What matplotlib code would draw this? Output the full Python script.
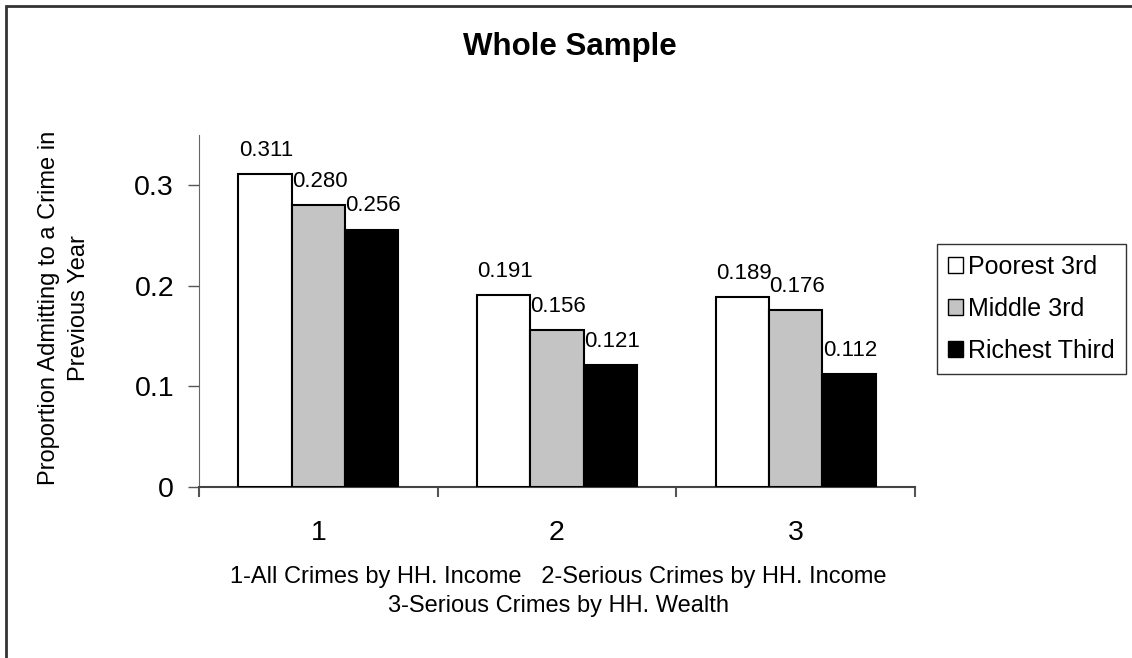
import matplotlib
matplotlib.use('Agg')
import matplotlib.pyplot as plt
import numpy as np
from matplotlib.patches import Rectangle, Patch

plt.rcParams['font.family'] = ['Liberation Sans', 'DejaVu Sans']

W, H = 1132, 658

# Data
groups = ['1', '2', '3']
series = ['Poorest 3rd', 'Middle 3rd', 'Richest Third']
poorest = [0.311, 0.191, 0.189]
middle = [0.280, 0.156, 0.176]
richest = [0.256, 0.121, 0.112]
y_ticks = [0, 0.1, 0.2, 0.3]
y_tick_labels = ['0', '0.1', '0.2', '0.3']

fills = ['white', '#c4c4c4', 'black']

fig = plt.figure(figsize=(W / 100, H / 100), dpi=100)
fig.patch.set_facecolor('white')

# outer frame, only top and left edges fall inside the canvas
fig.patches.append(Rectangle((6 / W, -0.1), 1.2, 1 - 6 / H + 0.1,
                             transform=fig.transFigure, fill=False,
                             edgecolor='#333333', linewidth=2))

ax = fig.add_axes([199 / W, 1 - 487 / H, (915 - 199) / W, (487 - 135) / H])

x = np.arange(len(groups))
bw = 0.223
for k, (vals, fc) in enumerate(zip([poorest, middle, richest], fills)):
    pos = x + (k - 1) * bw
    ax.bar(pos, vals, bw, color=fc, edgecolor='black', linewidth=1.5, zorder=3)
    for px, v in zip(pos, vals):
        ax.annotate(f'{v:.3f}', (px, v), xytext=(1, 17), textcoords='offset points',
                    ha='center', va='center', fontsize=16)

ax.set_xlim(-0.5, 2.5)
ax.set_ylim(0, 0.35)
ax.set_yticks(y_ticks)
ax.set_yticklabels(y_tick_labels, fontsize=20.5)
ax.tick_params(axis='y', direction='out', length=8, width=1, color='#555555', pad=10)

ax.set_xticks([-0.5, 0.5, 1.5, 2.5])
ax.set_xticklabels([])
ax.set_xticks(x, minor=True)
ax.set_xticklabels(groups, minor=True, fontsize=20.5)
ax.tick_params(axis='x', which='major', direction='out', length=7, width=1.5, color='#555555')
ax.tick_params(axis='x', which='minor', length=0, pad=24)

for s in ['top', 'right']:
    ax.spines[s].set_visible(False)
ax.spines['left'].set_color('#666666')
ax.spines['bottom'].set_color('#444444')
ax.spines['bottom'].set_linewidth(1.5)

fig.text(570 / W, 1 - 47 / H, 'Whole Sample', ha='center', va='center',
         fontsize=22.5, fontweight='bold')
fig.text(64 / W, 1 - 308 / H, 'Proportion Admitting to a Crime in\nPrevious Year',
         ha='center', va='center', rotation=90, fontsize=17, linespacing=1.45)
fig.text(558 / W, 1 - 577 / H,
         '1-All Crimes by HH. Income   2-Serious Crimes by HH. Income',
         ha='center', va='center', fontsize=17)
fig.text(558 / W, 1 - 606 / H, '3-Serious Crimes by HH. Wealth',
         ha='center', va='center', fontsize=17)

handles = [Patch(facecolor=fc, edgecolor='black', linewidth=1) for fc in fills]
leg = fig.legend(handles, series, loc='lower left',
                 bbox_to_anchor=(937 / W, 1 - 374 / H), fontsize=18,
                 frameon=True, fancybox=False, handlelength=0.6, handleheight=0.6,
                 handletextpad=0.2, labelspacing=0.72, borderpad=0.45, borderaxespad=0)
leg.get_frame().set_edgecolor('black')
leg.get_frame().set_linewidth(1)

fig.savefig('out.png', dpi=100, facecolor='white')
